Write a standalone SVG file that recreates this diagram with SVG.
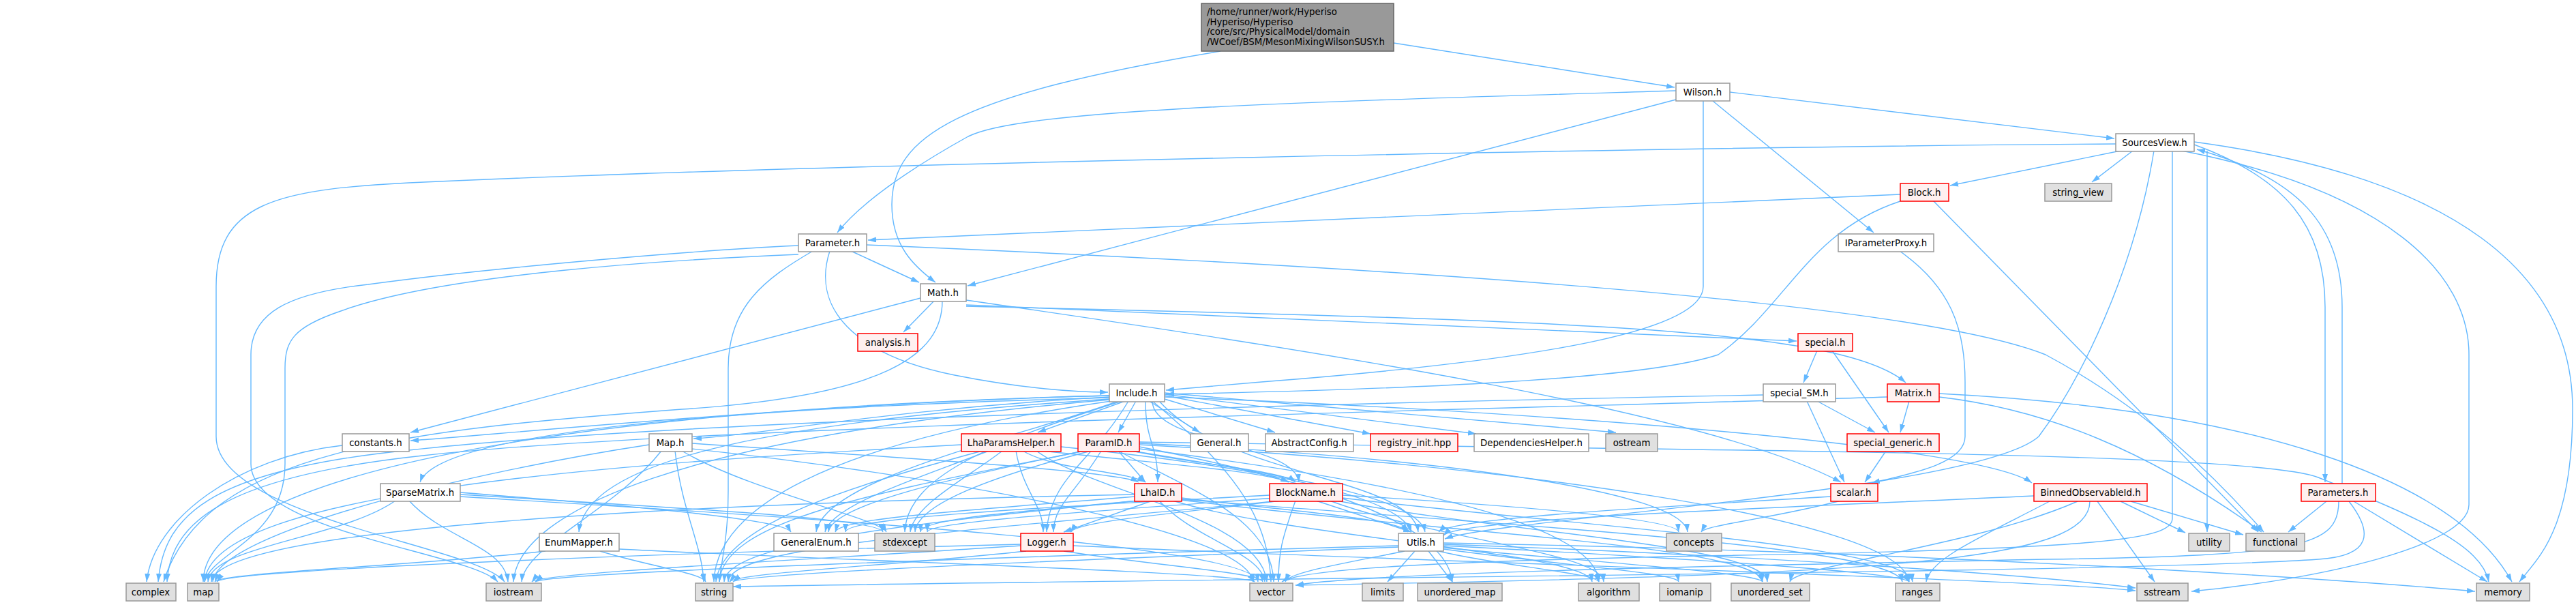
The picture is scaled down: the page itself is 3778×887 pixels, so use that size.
<svg xmlns="http://www.w3.org/2000/svg" width="3778" height="887" viewBox="0 0 3778 887">
<style>
rect{stroke-width:1.5}
.n rect{fill:#fff;stroke:#999}
.r rect{fill:#fff0f0;stroke:#f00}
.g rect{fill:#e0e0e0;stroke:#999}
.root rect{fill:#999;stroke:#666}
text{font-family:"DejaVu Sans",sans-serif;font-size:13.3px;text-anchor:middle;fill:#000}
.root text{text-anchor:start}
#edges path{fill:none;stroke:#63b8ff;stroke-width:1.4;marker-end:url(#a)}
</style>
<defs><marker id="a" viewBox="0 0 12 8" refX="12" refY="4" markerWidth="12" markerHeight="8" markerUnits="userSpaceOnUse" orient="auto"><path d="M0,0 L12,4 L0,8 z" fill="#63b8ff"/></marker></defs>
<rect width="3778" height="887" fill="#fff"/>
<g id="edges">
<path d="M2044,63 L2456,128"/>
<path d="M1790,75 C1400,140 1308,200 1308,300 C1308,360 1340,390 1372,414"/>
<path d="M2537,135 L3101,203"/>
<path d="M2458,133 C1900,150 1500,160 1420,200 C1330,250 1260,300 1228,341"/>
<path d="M2458,146 L1419,419"/>
<path d="M2512,148 L2748,341"/>
<path d="M2498,148 L2498,420 C2498,480 2300,525 1850,560 L1710,572"/>
<path d="M3110,221 L2860,272"/>
<path d="M3128,221 L3068,267"/>
<path d="M3103,211 C2500,215 1200,240 600,268 C400,278 317,300 317,420 L317,640 C317,760 700,800 740,853"/>
<path d="M2787,285 L1273,352"/>
<path d="M2787,295 C2650,340 2620,450 2520,520 C2400,560 2000,572 1710,578"/>
<path d="M2835,294 L3312,780"/>
<path d="M2786,368 C2860,420 2882,480 2882,560 L2882,640 C2882,680 2800,695 2745,708"/>
<path d="M1248,368 L1348,414"/>
<path d="M1217,368 C1190,450 1250,520 1400,550 C1500,570 1580,575 1625,575"/>
<path d="M1192,368 C1120,410 1068,450 1068,540 L1068,720 C1068,790 1058,820 1055,853"/>
<path d="M1171,360 C1000,368 700,395 540,417 C420,430 368,460 368,520 L368,680 C368,780 690,810 730,853"/>
<path d="M1171,373 C1000,380 650,400 497,457 C430,480 418,500 418,540 L418,680 C418,790 310,810 300,853"/>
<path d="M1271,359 C2000,390 2800,440 3000,520 C3150,600 3250,700 3320,780"/>
<path d="M1370,441 L1325,487"/>
<path d="M1417,447 L2635,500"/>
<path d="M1417,449 C2300,470 2700,480 2795,561"/>
<path d="M1417,440 C1900,510 2500,600 2700,707"/>
<path d="M1350,437 L602,634"/>
<path d="M1382,441 C1382,520 1300,580 1000,600 C600,630 300,660 240,853"/>
<path d="M1650,588 L1522,634"/>
<path d="M1666,588 L1640,634"/>
<path d="M1685,588 L1760,634"/>
<path d="M1708,585 L1870,634"/>
<path d="M1708,580 L2010,636"/>
<path d="M1708,578 L2165,636"/>
<path d="M1708,576 L2370,634"/>
<path d="M1627,580 C1200,590 700,640 602,646"/>
<path d="M1627,582 C1300,600 1100,640 1017,643"/>
<path d="M2665,514 L2645,561"/>
<path d="M2687,514 L2770,634"/>
<path d="M2665,588 L2750,634"/>
<path d="M2800,588 L2787,634"/>
<path d="M2650,588 L2705,707"/>
<path d="M2766,661 L2735,707"/>
<path d="M2586,579 C2000,590 1000,615 600,660 C300,690 240,760 232,853"/>
<path d="M2768,582 C2200,600 1000,625 620,668 C320,700 250,770 245,853"/>
<path d="M1680,588 C1680,650 1698,650 1698,707"/>
<path d="M1690,588 C1690,650 1900,650 1905,707"/>
<path d="M1640,588 C1500,640 1210,700 1197,780"/>
<path d="M1655,588 C1600,680 1540,700 1535,780"/>
<path d="M1700,588 C1800,700 2070,700 2080,780"/>
<path d="M1645,588 C1450,650 1330,700 1327,780"/>
<path d="M1627,583 C1000,600 640,640 616,707"/>
<path d="M1627,585 C1100,620 860,680 849,780"/>
<path d="M1630,588 C1200,650 1050,750 1047,853"/>
<path d="M1690,588 C1800,680 1860,750 1864,853"/>
<path d="M1627,586 C1000,640 760,750 753,853"/>
<path d="M1627,580 C800,600 300,700 298,853"/>
<path d="M1708,582 C2200,600 2900,650 2980,708"/>
<path d="M1500,661 C1550,690 1650,690 1680,707"/>
<path d="M1530,661 C1700,680 1850,690 1890,707"/>
<path d="M1490,661 C1500,720 1530,740 1530,780"/>
<path d="M1556,655 C1800,680 2050,720 2070,780"/>
<path d="M1440,661 C1300,700 1060,760 1050,853"/>
<path d="M1520,661 C1600,720 1850,760 1858,853"/>
<path d="M1410,652 C900,680 310,720 300,853"/>
<path d="M1450,661 C1350,700 1220,740 1210,780"/>
<path d="M1470,661 C1420,700 1340,740 1335,780"/>
<path d="M1640,661 L1680,707"/>
<path d="M1660,661 C1750,680 1880,690 1900,707"/>
<path d="M1590,661 C1400,700 1220,740 1215,780"/>
<path d="M1600,661 C1450,700 1345,740 1342,780"/>
<path d="M1615,661 C1580,720 1545,740 1545,780"/>
<path d="M1660,661 C1900,700 2080,730 2090,780"/>
<path d="M1590,661 C1300,720 1060,760 1055,853"/>
<path d="M1640,661 C1750,720 1865,760 1868,853"/>
<path d="M1671,655 C1900,700 2120,760 2130,853"/>
<path d="M1671,652 C2200,680 2790,760 2800,853"/>
<path d="M1671,650 C2100,670 2470,720 2475,780"/>
<path d="M1671,658 C2000,700 2340,760 2345,853"/>
<path d="M1671,648 C2400,660 3300,660 3400,700 C3550,760 3640,800 3650,853"/>
<path d="M1664,728 C1400,750 1230,760 1225,780"/>
<path d="M1670,734 C1500,750 1350,760 1350,780"/>
<path d="M1690,734 L1560,780"/>
<path d="M1733,730 C1900,750 2050,760 2065,780"/>
<path d="M1670,734 C1300,770 1065,800 1062,853"/>
<path d="M1700,734 C1750,790 1850,810 1855,853"/>
<path d="M1720,734 C1900,790 2330,810 2335,853"/>
<path d="M1733,732 C2200,770 2780,800 2790,853"/>
<path d="M1733,733 C2100,780 2580,800 2585,853"/>
<path d="M1664,725 C900,740 320,780 310,853"/>
<path d="M1862,726 C1500,745 1240,760 1240,780"/>
<path d="M1870,730 C1600,750 1360,765 1360,780"/>
<path d="M1880,734 C1700,755 1580,765 1570,780"/>
<path d="M1930,734 L2070,780"/>
<path d="M1880,734 C1400,780 1070,800 1068,853"/>
<path d="M1900,734 C1880,790 1875,810 1875,853"/>
<path d="M1950,734 C2100,790 2350,810 2352,853"/>
<path d="M1969,730 C2300,770 2800,800 2805,853"/>
<path d="M1960,734 C2200,780 2590,800 2592,853"/>
<path d="M1969,726 C2200,740 2460,760 2462,780"/>
<path d="M580,734 C500,790 310,800 305,853"/>
<path d="M600,734 C650,790 740,800 745,853"/>
<path d="M675,728 C1200,760 1840,800 1845,853"/>
<path d="M675,722 C900,740 1150,760 1160,780"/>
<path d="M675,725 C1000,745 1290,760 1295,780"/>
<path d="M800,808 C600,830 320,840 315,853"/>
<path d="M880,808 C950,830 1030,840 1035,853"/>
<path d="M908,805 C1200,820 1830,840 1840,853"/>
<path d="M952,652 C700,690 320,780 312,853"/>
<path d="M990,661 C1000,750 1030,800 1032,853"/>
<path d="M1015,658 C1400,700 1830,780 1838,853"/>
<path d="M970,661 C900,750 770,800 765,853"/>
<path d="M1015,650 C1300,670 1640,690 1670,707"/>
<path d="M1000,661 C1100,720 1290,760 1300,780"/>
<path d="M502,653 C350,670 225,760 215,853"/>
<path d="M1497,800 C1200,820 790,840 780,853"/>
<path d="M1505,808 C1300,830 1080,840 1070,853"/>
<path d="M1560,808 C1700,830 1850,840 1852,853"/>
<path d="M1574,800 C2000,820 3000,850 3132,866"/>
<path d="M1497,798 C1000,810 330,835 318,853"/>
<path d="M2060,808 C1950,830 1890,840 1885,853"/>
<path d="M2051,802 C1600,820 1090,840 1075,853"/>
<path d="M2075,808 L2035,853"/>
<path d="M2095,808 L2130,853"/>
<path d="M2110,808 C2200,830 2340,840 2345,853"/>
<path d="M2117,805 C2300,830 2460,840 2462,853"/>
<path d="M2117,803 C2350,825 2580,840 2585,853"/>
<path d="M2117,800 C2500,820 2790,840 2800,853"/>
<path d="M2117,798 C2600,815 3000,845 3132,862"/>
<path d="M2117,796 C2900,810 3500,855 3630,867"/>
<path d="M2051,800 C1500,815 800,840 785,853"/>
<path d="M2685,728 C2400,745 2130,760 2110,780"/>
<path d="M2700,734 C2600,760 2500,770 2495,780"/>
<path d="M2983,727 C2600,745 2140,760 2117,785"/>
<path d="M3006,735 C2900,790 2830,820 2825,853"/>
<path d="M3047,735 C2900,800 2630,830 2625,853"/>
<path d="M3065,735 C3065,820 2800,843 1900,858"/>
<path d="M3110,735 L3205,781"/>
<path d="M3125,735 L3290,784"/>
<path d="M3076,735 L3160,853"/>
<path d="M3218,212 C3350,260 3410,330 3410,450 L3410,707"/>
<path d="M3435,709 L3435,450 C3435,330 3370,260 3222,219"/>
<path d="M3412,735 L3356,780"/>
<path d="M3452,735 L3648,853"/>
<path d="M3430,735 C3430,800 3380,815 3000,820 C2500,830 2000,840 1900,858"/>
<path d="M3445,735 C3480,780 3480,815 3400,820 C3100,840 2000,845 1075,860"/>
<path d="M3218,208 C3600,260 3773,400 3773,600 C3773,780 3720,820 3695,853"/>
<path d="M3200,221 C3500,280 3621,400 3621,520 L3621,740 C3621,800 3400,850 3214,867"/>
<path d="M3237,221 L3237,780"/>
<path d="M3186,221 L3186,760 C3186,790 3100,805 2500,815 C2000,825 1900,840 1880,853"/>
<path d="M3159,221 C3130,400 3050,560 2990,640 C2900,720 2200,760 2119,790"/>
<path d="M2844,577 C3300,600 3600,700 3684,853"/>
<path d="M2844,582 C3000,600 3150,660 3317,780"/>
</g>
<g id="root" class="root"><rect x="1762" y="5" width="282" height="70"/><text x="1770" y="22">/home/runner/work/Hyperiso</text><text x="1770" y="37">/Hyperiso/Hyperiso</text><text x="1770" y="51">/core/src/PhysicalModel/domain</text><text x="1770" y="66">/WCoef/BSM/MesonMixingWilsonSUSY.h</text></g>
<g id="Wilson" class="n"><rect x="2458" y="122" width="79" height="26"/><text x="2497" y="140">Wilson.h</text></g>
<g id="SourcesView" class="n"><rect x="3103" y="196" width="115" height="26"/><text x="3160" y="214">SourcesView.h</text></g>
<g id="Block" class="r"><rect x="2787" y="269" width="71" height="26"/><text x="2822" y="287">Block.h</text></g>
<g id="string_view" class="g"><rect x="2999" y="269" width="98" height="26"/><text x="3048" y="287">string_view</text></g>
<g id="Parameter" class="n"><rect x="1171" y="343" width="100" height="26"/><text x="1221" y="361">Parameter.h</text></g>
<g id="IParameterProxy" class="n"><rect x="2696" y="343" width="140" height="26"/><text x="2766" y="361">IParameterProxy.h</text></g>
<g id="Math" class="n"><rect x="1350" y="416" width="67" height="26"/><text x="1383" y="434">Math.h</text></g>
<g id="analysis" class="r"><rect x="1258" y="489" width="88" height="26"/><text x="1302" y="507">analysis.h</text></g>
<g id="special" class="r"><rect x="2637" y="489" width="80" height="26"/><text x="2677" y="507">special.h</text></g>
<g id="Include" class="n"><rect x="1627" y="563" width="81" height="26"/><text x="1667" y="581">Include.h</text></g>
<g id="special_SM" class="n"><rect x="2586" y="563" width="106" height="26"/><text x="2639" y="581">special_SM.h</text></g>
<g id="Matrix" class="r"><rect x="2768" y="563" width="76" height="26"/><text x="2806" y="581">Matrix.h</text></g>
<g id="constants" class="n"><rect x="502" y="636" width="98" height="26"/><text x="551" y="654">constants.h</text></g>
<g id="Map" class="n"><rect x="952" y="636" width="63" height="26"/><text x="983" y="654">Map.h</text></g>
<g id="LhaParamsHelper" class="r"><rect x="1410" y="636" width="146" height="26"/><text x="1483" y="654">LhaParamsHelper.h</text></g>
<g id="ParamID" class="r"><rect x="1581" y="636" width="90" height="26"/><text x="1626" y="654">ParamID.h</text></g>
<g id="General" class="n"><rect x="1746" y="636" width="85" height="26"/><text x="1788" y="654">General.h</text></g>
<g id="AbstractConfig" class="n"><rect x="1856" y="636" width="129" height="26"/><text x="1920" y="654">AbstractConfig.h</text></g>
<g id="registry_init" class="r"><rect x="2010" y="636" width="128" height="26"/><text x="2074" y="654">registry_init.hpp</text></g>
<g id="DependenciesHelper" class="n"><rect x="2162" y="636" width="168" height="26"/><text x="2246" y="654">DependenciesHelper.h</text></g>
<g id="ostream" class="g"><rect x="2355" y="636" width="76" height="26"/><text x="2393" y="654">ostream</text></g>
<g id="special_generic" class="r"><rect x="2709" y="636" width="135" height="26"/><text x="2776" y="654">special_generic.h</text></g>
<g id="SparseMatrix" class="n"><rect x="558" y="709" width="117" height="26"/><text x="616" y="727">SparseMatrix.h</text></g>
<g id="LhaID" class="r"><rect x="1664" y="709" width="69" height="26"/><text x="1698" y="727">LhaID.h</text></g>
<g id="BlockName" class="r"><rect x="1862" y="709" width="107" height="26"/><text x="1915" y="727">BlockName.h</text></g>
<g id="scalar" class="r"><rect x="2685" y="709" width="69" height="26"/><text x="2719" y="727">scalar.h</text></g>
<g id="BinnedObservableId" class="r"><rect x="2983" y="709" width="166" height="26"/><text x="3066" y="727">BinnedObservableId.h</text></g>
<g id="Parameters" class="r"><rect x="3375" y="709" width="109" height="26"/><text x="3429" y="727">Parameters.h</text></g>
<g id="EnumMapper" class="n"><rect x="791" y="782" width="117" height="26"/><text x="849" y="800">EnumMapper.h</text></g>
<g id="GeneralEnum" class="n"><rect x="1135" y="782" width="124" height="26"/><text x="1197" y="800">GeneralEnum.h</text></g>
<g id="stdexcept" class="g"><rect x="1283" y="782" width="88" height="26"/><text x="1327" y="800">stdexcept</text></g>
<g id="Logger" class="r"><rect x="1497" y="782" width="77" height="26"/><text x="1535" y="800">Logger.h</text></g>
<g id="Utils" class="n"><rect x="2051" y="782" width="66" height="26"/><text x="2084" y="800">Utils.h</text></g>
<g id="concepts" class="g"><rect x="2444" y="782" width="81" height="26"/><text x="2484" y="800">concepts</text></g>
<g id="utility" class="g"><rect x="3210" y="782" width="60" height="26"/><text x="3240" y="800">utility</text></g>
<g id="functional" class="g"><rect x="3294" y="782" width="86" height="26"/><text x="3337" y="800">functional</text></g>
<g id="complex" class="g"><rect x="185" y="855" width="73" height="26"/><text x="221" y="873">complex</text></g>
<g id="map" class="g"><rect x="275" y="855" width="46" height="26"/><text x="298" y="873">map</text></g>
<g id="iostream" class="g"><rect x="713" y="855" width="81" height="26"/><text x="753" y="873">iostream</text></g>
<g id="string" class="g"><rect x="1020" y="855" width="55" height="26"/><text x="1047" y="873">string</text></g>
<g id="vector" class="g"><rect x="1833" y="855" width="63" height="26"/><text x="1864" y="873">vector</text></g>
<g id="limits" class="g"><rect x="1998" y="855" width="60" height="26"/><text x="2028" y="873">limits</text></g>
<g id="unordered_map" class="g"><rect x="2079" y="855" width="124" height="26"/><text x="2141" y="873">unordered_map</text></g>
<g id="algorithm" class="g"><rect x="2315" y="855" width="89" height="26"/><text x="2359" y="873">algorithm</text></g>
<g id="iomanip" class="g"><rect x="2434" y="855" width="75" height="26"/><text x="2471" y="873">iomanip</text></g>
<g id="unordered_set" class="g"><rect x="2539" y="855" width="115" height="26"/><text x="2596" y="873">unordered_set</text></g>
<g id="ranges" class="g"><rect x="2780" y="855" width="65" height="26"/><text x="2812" y="873">ranges</text></g>
<g id="sstream" class="g"><rect x="3134" y="855" width="75" height="26"/><text x="3171" y="873">sstream</text></g>
<g id="memory" class="g"><rect x="3632" y="855" width="78" height="26"/><text x="3671" y="873">memory</text></g>
</svg>
